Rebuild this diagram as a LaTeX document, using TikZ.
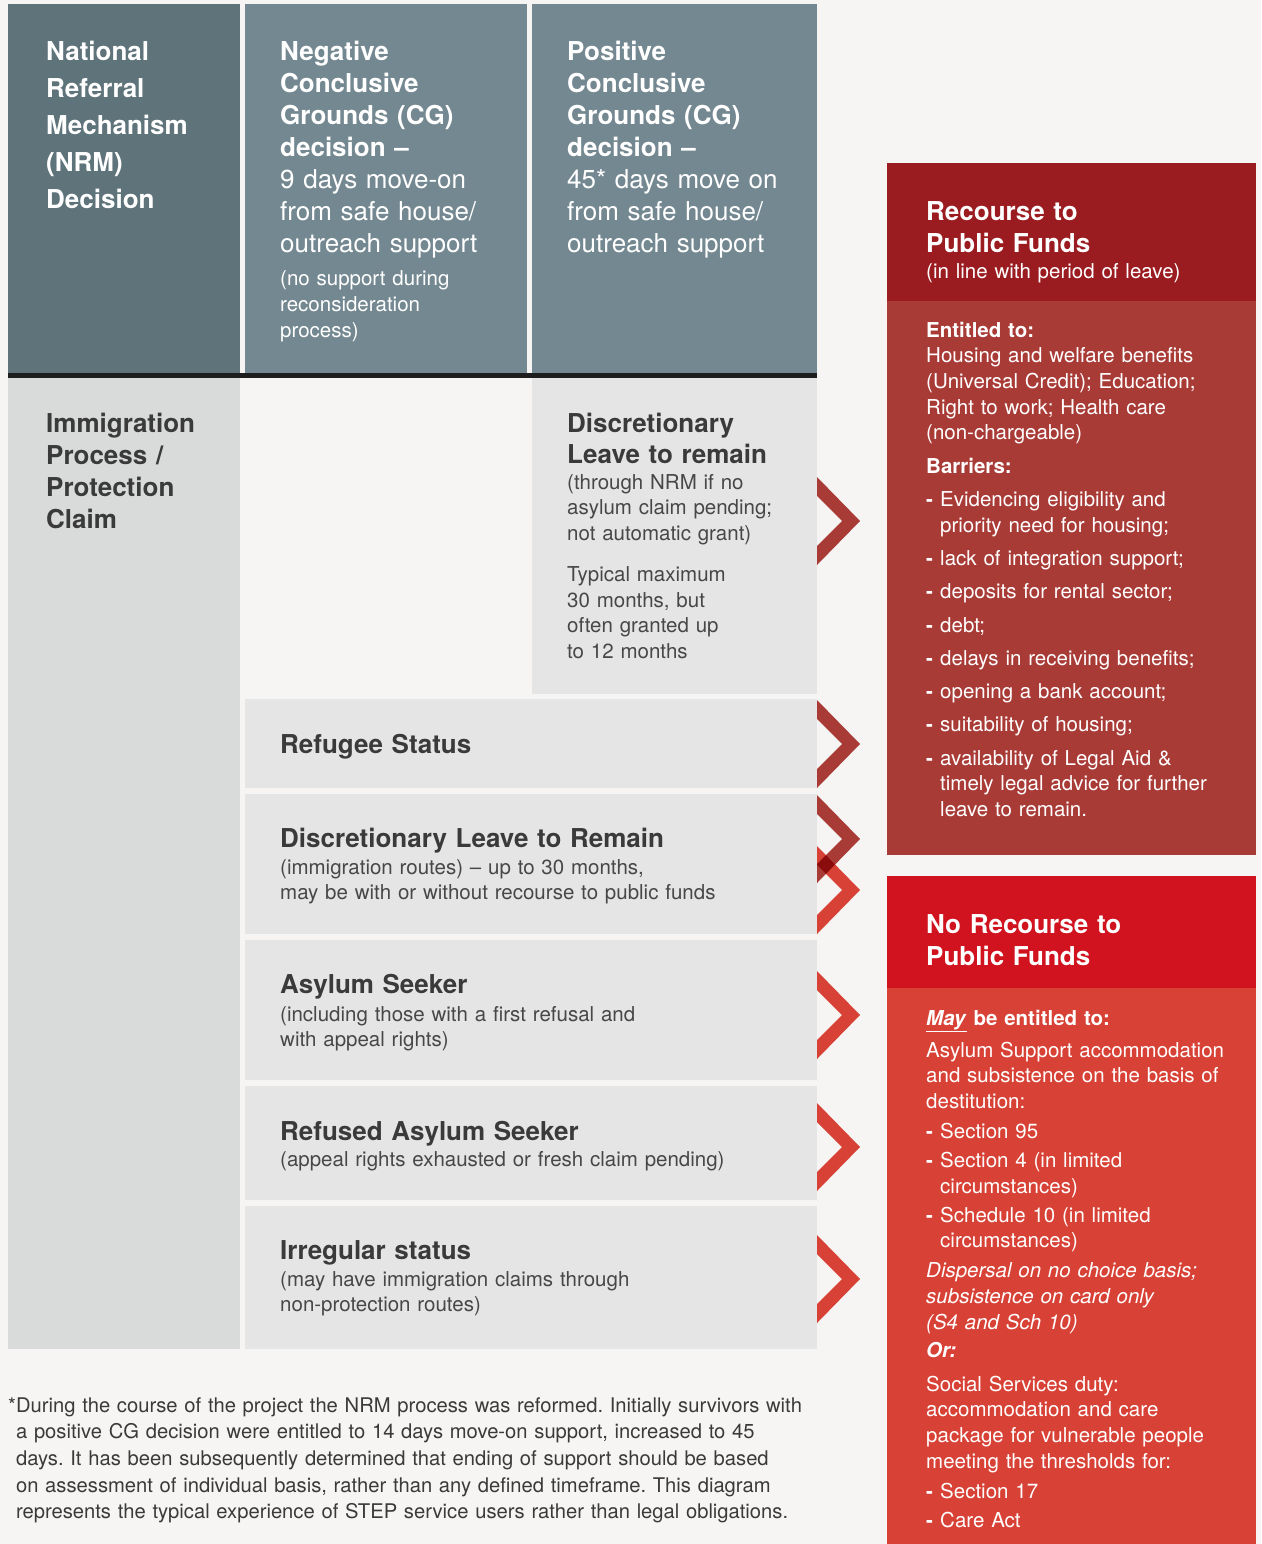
\documentclass[tikz,border=0pt]{standalone}
\usepackage{fontspec}
\setmainfont{TeX Gyre Heros}
\frenchspacing

\definecolor{bgcol}{HTML}{F6F5F3}
\definecolor{nrmcol}{HTML}{5E737A}
\definecolor{cgcol}{HTML}{748891}
\definecolor{leftcol}{HTML}{D9DBDA}
\definecolor{boxcol}{HTML}{E5E5E5}
\definecolor{barcol}{HTML}{1E1E1E}
\definecolor{rphead}{HTML}{9B1C20}
\definecolor{rpbody}{HTML}{A93B37}
\definecolor{nrhead}{HTML}{D0131F}
\definecolor{nrbody}{HTML}{D84135}
\definecolor{overlapcol}{HTML}{8A0C0C}
\definecolor{txtcol}{HTML}{3A3A3A}
\definecolor{notecol}{HTML}{474747}

\newcommand{\dashitem}{\makebox[14pt][l]{\textbf{-}}}
\newcommand{\dashpad}{\hspace*{14pt}}
% chevron pointing right, top edge at y = #1
\newcommand{\chevpath}[1]{(817,#1) -- ++(43,44) -- ++(-43,44) -- ++(0,-19) -- ++(25,-25) -- ++(-25,-25) -- cycle}

\tikzset{
  lbl/.style={anchor=base west, inner sep=0pt, align=left, text width=#1},
  lbl/.default=520pt,
  headtxt/.style={lbl, font=\fontsize{26}{32}\selectfont\bfseries},
  notetxt/.style={lbl, font=\fontsize{20.5}{25.5}\selectfont},
}

\begin{document}
\begin{tikzpicture}[x=1pt,y=-1pt]
% backdrop
\useasboundingbox (0,0) rectangle (1261,1544);
\fill[bgcol] (0,0) rectangle (1261,1544);

% header row
\fill[nrmcol] (8,4) rectangle (240,374);
\fill[cgcol] (245,4) rectangle (527,374);
\fill[cgcol] (532,4) rectangle (817,374);
\fill[barcol] (8,373) rectangle (817,378);

% immigration column and status boxes
\fill[leftcol] (8,378) rectangle (240,1349);
\fill[boxcol] (532,378) rectangle (817,694);
\fill[boxcol] (245,699) rectangle (817,788);
\fill[boxcol] (245,794) rectangle (817,934);
\fill[boxcol] (245,940) rectangle (817,1080);
\fill[boxcol] (245,1086) rectangle (817,1200);
\fill[boxcol] (245,1206) rectangle (817,1349);

% public funds boxes
\fill[rphead] (887,163) rectangle (1256,301);
\fill[rpbody] (887,301) rectangle (1256,855);
\fill[nrhead] (887,876) rectangle (1256,988);
\fill[nrbody] (887,988) rectangle (1256,1544);

% chevrons
\fill[rpbody] \chevpath{477};
\fill[rpbody] \chevpath{700};
\fill[rpbody] \chevpath{795};
\fill[nrbody] \chevpath{846};
\begin{scope}
  \clip \chevpath{795};
  \fill[overlapcol] \chevpath{846};
\end{scope}
\fill[nrbody] \chevpath{971};
\fill[nrbody] \chevpath{1103};
\fill[nrbody] \chevpath{1235};

% header texts
\node[headtxt, text=white, font=\fontsize{26}{37}\selectfont\bfseries] (nrm) at (46,61)
  {National\\Referral\\Mechanism\\(NRM)\\Decision};
\node[headtxt, text=white] (neg) at (280,61)
  {Negative\\Conclusive\\Grounds (CG)\\decision –\\\mdseries 9 days move-on\\from safe house/\\outreach support};
\node[notetxt, text=white, font=\fontsize{20.5}{26}\selectfont] (negnote) at (280,285)
  {(no support during\\reconsideration\\process)};
\node[headtxt, text=white] (pos) at (567,61)
  {Positive\\Conclusive\\Grounds (CG)\\decision –\\\mdseries 45* days move on\\from safe house/\\outreach support};

% status texts
\node[headtxt, text=txtcol] (imm) at (46,432) {Immigration\\Process /\\Protection\\Claim};
\node[headtxt, text=txtcol, font=\fontsize{26}{31}\selectfont\bfseries] (dlrnrm) at (567,432)
  {Discretionary\\Leave to remain};
\node[notetxt, text=notecol] (dlrnrmnote) at (567,489)
  {(through NRM if no\\asylum claim pending;\\not automatic grant)\\[16pt]Typical maximum\\30 months, but\\often granted up\\to 12 months};
\node[headtxt, text=txtcol] (refugee) at (280,753) {Refugee Status};
\node[headtxt, text=txtcol] (dlrimm) at (280,847) {Discretionary Leave to Remain};
\node[notetxt, text=notecol] (dlrimmnote) at (280,874)
  {(immigration routes) – up to 30 months,\\may be with or without recourse to public funds};
\node[headtxt, text=txtcol] (asylum) at (280,993) {Asylum Seeker};
\node[notetxt, text=notecol] (asylumnote) at (280,1021)
  {(including those with a first refusal and\\with appeal rights)};
\node[headtxt, text=txtcol] (refused) at (280,1140) {Refused Asylum Seeker};
\node[notetxt, text=notecol] (refusednote) at (280,1166)
  {(appeal rights exhausted or fresh claim pending)};
\node[headtxt, text=txtcol] (irregular) at (280,1259) {Irregular status};
\node[notetxt, text=notecol] (irregularnote) at (280,1286)
  {(may have immigration claims through\\non-protection routes)};

% recourse to public funds
\node[headtxt, text=white] (rpf) at (926,220) {Recourse to\\Public Funds};
\node[notetxt, text=white] (rpfnote) at (926,278) {(in line with period of leave)};
\node[notetxt, text=white, font=\fontsize{20.5}{25.7}\selectfont] (rpfbody) at (926,337)
  {\textbf{Entitled to:}\\Housing and welfare benefits\\(Universal Credit); Education;\\Right to work; Health care\\(non-chargeable)\\[7.6pt]%
   \textbf{Barriers:}\\[7.6pt]%
   \dashitem Evidencing eligibility and\\\dashpad priority need for housing;\\[7.6pt]%
   \dashitem lack of integration support;\\[7.6pt]%
   \dashitem deposits for rental sector;\\[7.6pt]%
   \dashitem debt;\\[7.6pt]%
   \dashitem delays in receiving benefits;\\[7.6pt]%
   \dashitem opening a bank account;\\[7.6pt]%
   \dashitem suitability of housing;\\[7.6pt]%
   \dashitem availability of Legal Aid \&\\\dashpad timely legal advice for further\\\dashpad leave to remain.};

% no recourse to public funds
\node[headtxt, text=white] (nrpf) at (926,933) {No Recourse to\\Public Funds};
\node[notetxt, text=white, font=\fontsize{20.5}{25.7}\selectfont] (nrpfbody) at (926,1025)
  {\underline{\textbf{\textit{May}}}\textbf{ be entitled to:}\\[6.3pt]%
   Asylum Support accommodation\\and subsistence on the basis of\\destitution:\\[4.3pt]%
   \dashitem Section 95\\[3.3pt]%
   \dashitem Section 4 (in limited\\\dashpad circumstances)\\[3.3pt]%
   \dashitem Schedule 10 (in limited\\\dashpad circumstances)\\[4.3pt]%
   {\itshape Dispersal on no choice basis;\\subsistence on card only\\(S4 and Sch 10)}\\[2.3pt]%
   {\bfseries\itshape Or:}\\[8.3pt]%
   Social Services duty:\\accommodation and care\\package for vulnerable people\\meeting the thresholds for:\\[4.3pt]%
   \dashitem Section 17\\[3.3pt]%
   \dashitem Care Act};

% footnote
\node[notetxt, text=txtcol, text width=820pt, font=\fontsize{20.2}{26.7}\selectfont] (foot) at (8,1412)
  {*During the course of the project the NRM process was reformed. Initially survivors with\\
   \phantom{*}a positive CG decision were entitled to 14 days move-on support, increased to 45\\
   \phantom{*}days. It has been subsequently determined that ending of support should be based\\
   \phantom{*}on assessment of individual basis, rather than any defined timeframe. This diagram\\
   \phantom{*}represents the typical experience of STEP service users rather than legal obligations.};
\end{tikzpicture}
\end{document}
